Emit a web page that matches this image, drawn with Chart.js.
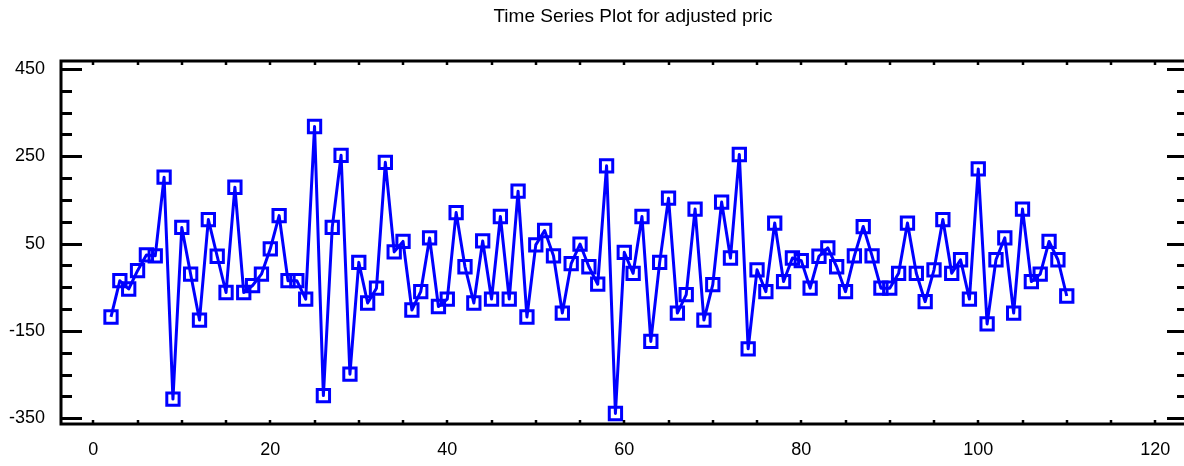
<!DOCTYPE html>
<html>
<head>
<meta charset="utf-8">
<script src="https://cdn.jsdelivr.net/npm/chart.js@4"></script>
<style>
  html, body { margin: 0; padding: 0; background: #fff; overflow: hidden; }
  #wrap { width: 1200px; height: 466px; }
</style>
</head>
<body>
<div id="wrap"><canvas id="tsChart" width="1200" height="466"></canvas></div>
<script>
// Adjusted price series, one value per period starting at period 2
const firstPeriod = 2;
const adjustedPrice = [
  -118, -35, -54, -12, 24, 22, 202, -306, 87, -20,
  -125, 105, 21, -62, 179, -62, -46, -20, 38, 114,
  -35, -35, -77, 318, -298, 87, 252, -249, 7, -86,
  -52, 236, 31, 55, -102, -60, 63, -94, -77, 121,
  -3, -86, 56, -77, 112, -77, 170, -118, 47, 80,
  22, -109, 4, 49, -3, -43, 228, -339, 30, -18,
  112, -174, 7, 154, -109, -67, 129, -125, -44, 145,
  17, 254, -191, -10, -60, 97, -37, 17, 11, -52,
  21, 40, -3, -60, 22, 89, 22, -52, -52, -18,
  97, -18, -83, -10, 105, -18, 13, -77, 221, -134,
  13, 63, -109, 129, -37, -20, 55, 13, -70
];

// Axis tick labels
const xTickValues = [0, 20, 40, 60, 80, 100, 120];
const yTickValues = [-350, -150, 50, 250, 450];

const periods = adjustedPrice.map((v, i) => i + firstPeriod);
const points = adjustedPrice.map((v, i) => ({ x: periods[i], y: v }));

const titleText = 'Time Series Plot for adjusted pric';

// Title, frame and inward tick marks
const framePlugin = {
  id: 'frame',
  afterDraw(chart) {
    const { ctx, chartArea: a, scales: { x, y } } = chart;
    ctx.save();

    ctx.fillStyle = '#000';
    ctx.font = '19px "Liberation Sans", Arial, sans-serif';
    ctx.textAlign = 'center';
    ctx.textBaseline = 'alphabetic';
    ctx.fillText(titleText, 633, 22);

    ctx.strokeStyle = '#000';
    ctx.lineWidth = 3;
    ctx.strokeRect(a.left, a.top, a.right - a.left, a.bottom - a.top);

    // y ticks every 50, long ones at labelled values
    ctx.lineWidth = 3;
    for (let v = -350; v <= 450; v += 50) {
      const py = Math.round(y.getPixelForValue(v)) + 0.5;
      const len = yTickValues.includes(v) ? 21 : 11;
      ctx.beginPath();
      ctx.moveTo(a.left, py);
      ctx.lineTo(a.left + len, py);
      ctx.moveTo(a.right, py);
      ctx.lineTo(a.right - len, py);
      ctx.stroke();
    }

    // x ticks every 5, short nubs on top and bottom
    ctx.lineWidth = 2.5;
    for (let v = 0; v <= 120; v += 5) {
      const px = Math.round(x.getPixelForValue(v));
      ctx.beginPath();
      ctx.moveTo(px, a.top);
      ctx.lineTo(px, a.top + 4);
      ctx.moveTo(px, a.bottom);
      ctx.lineTo(px, a.bottom - 4);
      ctx.stroke();
    }
    ctx.restore();
  }
};

const ctx = document.getElementById('tsChart').getContext('2d');
new Chart(ctx, {
  type: 'line',
  data: {
    datasets: [{
      data: points,
      borderColor: '#0000ff',
      borderWidth: 3,
      borderJoinStyle: 'round',
      pointStyle: 'rect',
      pointRadius: 8.7,
      pointBorderWidth: 3,
      pointBorderColor: '#0000ff',
      pointBackgroundColor: 'rgba(0,0,0,0)',
      tension: 0
    }]
  },
  options: {
    responsive: false,
    animation: false,
    layout: { padding: { top: 61, right: 12, left: 0, bottom: 0 } },
    plugins: {
      legend: { display: false },
      tooltip: { enabled: false },
      title: { display: false }
    },
    scales: {
      x: {
        type: 'linear',
        min: -3.65,
        max: 123.7,
        grid: { display: false, drawTicks: false },
        border: { display: false },
        afterBuildTicks: s => { s.ticks = xTickValues.map(v => ({ value: v })); },
        afterFit: s => { s.height = 42; },
        ticks: {
          color: '#000',
          padding: 15,
          maxRotation: 0,
          font: { family: '"Liberation Sans", Arial, sans-serif', size: 18 }
        }
      },
      y: {
        type: 'linear',
        min: -363,
        max: 468,
        grid: { display: false, drawTicks: false },
        border: { display: false },
        afterBuildTicks: s => { s.ticks = yTickValues.map(v => ({ value: v })); },
        afterFit: s => { s.width = 61; },
        ticks: {
          color: '#000',
          padding: 16,
          font: { family: '"Liberation Sans", Arial, sans-serif', size: 18 }
        }
      }
    }
  },
  plugins: [framePlugin]
});
</script>
</body>
</html>
